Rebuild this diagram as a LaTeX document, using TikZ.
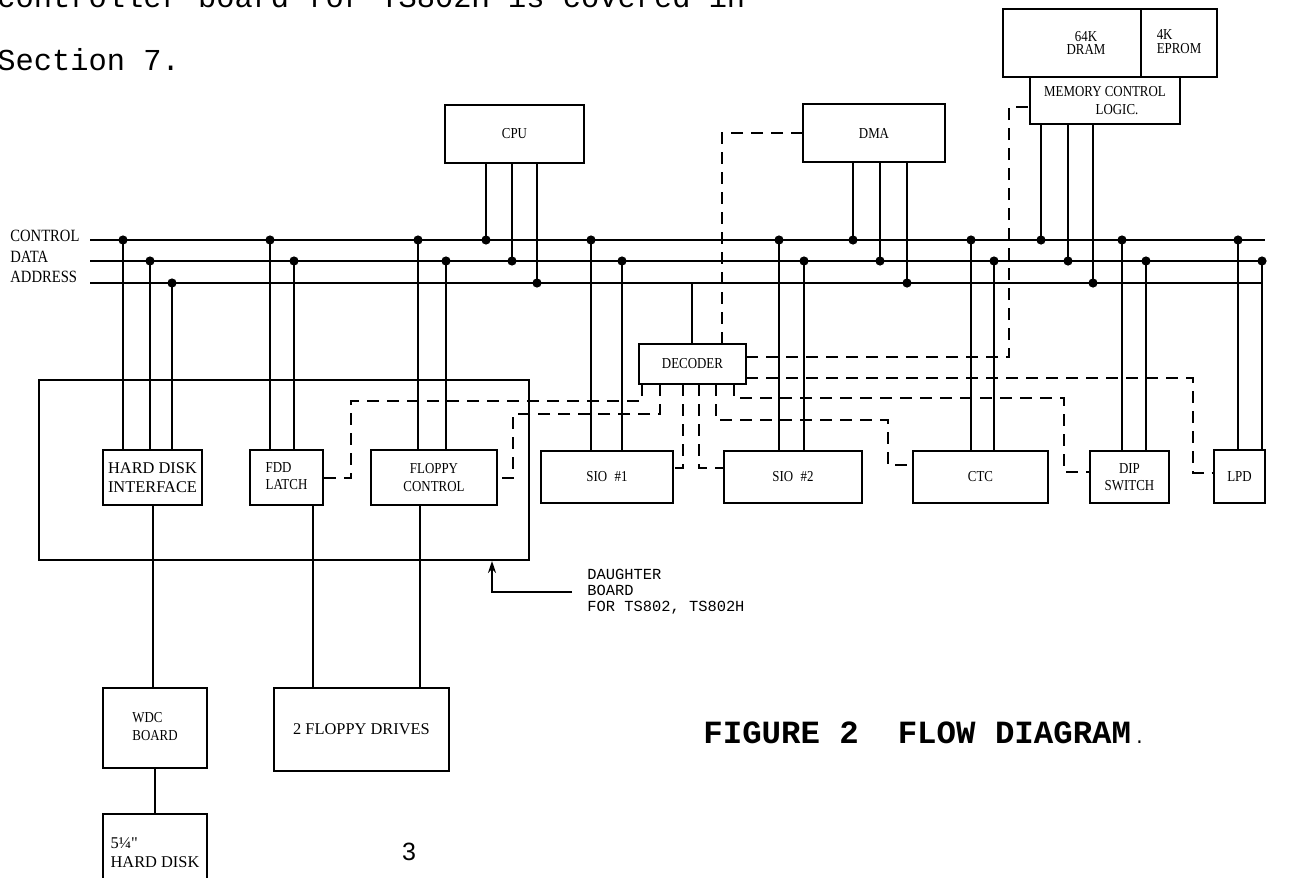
\documentclass[tikz,border=0pt]{standalone}
\usepackage{fontspec}
\setmainfont{Liberation Serif}
\newfontfamily\diafont[FakeStretch=0.85]{Liberation Serif}
\newfontfamily\widefont{Liberation Serif}
\newfontfamily\typefont{Liberation Mono}
\newfontfamily\pagefont{Liberation Sans}
\usetikzlibrary{positioning,calc,arrows.meta}

\begin{document}
\begin{tikzpicture}[x=0.5pt,y=-0.5pt]
    \tikzset{
        box/.style={draw, line width=1pt, inner sep=0pt, outer sep=0pt, align=center,
                    font=\diafont\fontsize{7.6}{8.8}\selectfont},
        widebox/.style={box, font=\widefont\fontsize{8.2}{9.2}\selectfont},
        wire/.style={line width=1pt},
        sel/.style={line width=1pt, dash pattern=on 6pt off 4pt},
        dot/.style={circle, fill, inner sep=0pt, minimum size=4.6pt},
        buslbl/.style={anchor=west, inner sep=0pt, font=\diafont\fontsize{8.6}{9}\selectfont},
    }

    \newcommand{\blk}[7][box]{
        \node[#1, minimum width={(#5-#3)*0.5pt}, minimum height={(#6-#4)*0.5pt}]
            (#2) at ({(#3+#5)/2},{(#4+#6)/2}) {#7};
    }

    \useasboundingbox (0,0) rectangle (1303,878);
    \clip (0,0) rectangle (1303,878);

    \node[anchor=base west, inner sep=0pt, font=\typefont\fontsize{15.2}{16}\selectfont] (txtA) at (-3,8) {controller board for TS802H is covered in};
    \node[anchor=base west, inner sep=0pt, font=\typefont\fontsize{15.2}{16}\selectfont] (txtB) at (-3,70) {Section 7.};

    \node[buslbl] (ctllbl) at (10,236) {CONTROL};
    \node[buslbl] (datlbl) at (10,257) {DATA};
    \node[buslbl] (adrlbl) at (10,277) {ADDRESS};

    \coordinate (ctl) at (90,240);   \coordinate (ctlend) at (1265,240);
    \coordinate (dat) at (90,261);   \coordinate (datend) at (1262,261);
    \coordinate (adr) at (90,283);   \coordinate (adrend) at (1262,283);
    \draw[wire] (ctl) -- (ctlend);
    \draw[wire] (dat) -- (datend);
    \draw[wire] (adr) -- (adrend);

    \blk{cpu}{445}{105}{584}{163}{CPU}
    \blk{dma}{803}{104}{945}{162}{DMA}
    \blk{dram}{1003}{9}{1141}{77}{\hspace*{14pt}64K\\[-2pt]\hspace*{14pt}DRAM}
    \blk{eprom}{1141}{9}{1217}{77}{\begin{tabular}{@{}l@{}}4K\\[-2pt]EPROM\end{tabular}}
    \blk{mcl}{1030}{77}{1180}{124}{MEMORY CONTROL\\\hspace*{12pt}LOGIC.}
    \blk{dec}{639}{344}{746}{384}{DECODER}

    \node[draw, line width=1pt, inner sep=0pt, minimum width=245pt, minimum height=90pt] (db) at (284,470) {};

    \blk[widebox]{hdi}{103}{450}{202}{505}{HARD DISK\\INTERFACE}
    \blk{fdl}{250}{450}{323}{505}{\begin{tabular}{@{}l@{}}FDD\\LATCH\end{tabular}}
    \blk{fdc}{371}{450}{497}{505}{FLOPPY\\CONTROL}
    \blk{sio1}{541}{451}{673}{503}{SIO\enspace\#1}
    \blk{sio2}{724}{451}{862}{503}{SIO\enspace\#2}
    \blk{ctc}{913}{451}{1048}{503}{CTC}
    \blk{dip}{1090}{451}{1169}{503}{DIP\\SWITCH}
    \blk{lpd}{1214}{450}{1265}{503}{LPD}

    \blk{wdc}{103}{688}{207}{768}{\begin{tabular}{@{}l@{}}WDC\\BOARD\end{tabular}}
    \blk[widebox]{fdd}{274}{688}{449}{771}{2 FLOPPY DRIVES}
    \blk[widebox]{hdd}{103}{814}{207}{895}{\begin{tabular}{@{}l@{}}5¼"\\HARD DISK\end{tabular}}

    \foreach \nd/\x/\bus/\side in {cpu/486/ctl/south, cpu/512/dat/south, cpu/537/adr/south,
        dma/853/ctl/south, dma/880/dat/south, dma/907/adr/south,
        mcl/1041/ctl/south, mcl/1068/dat/south, mcl/1093/adr/south,
        hdi/123/ctl/north, hdi/150/dat/north, hdi/172/adr/north,
        fdl/270/ctl/north, fdl/294/dat/north, fdc/418/ctl/north, fdc/446/dat/north,
        sio1/591/ctl/north, sio1/622/dat/north, sio2/779/ctl/north, sio2/804/dat/north,
        ctc/971/ctl/north, ctc/994/dat/north, dip/1122/ctl/north, dip/1146/dat/north,
        lpd/1238/ctl/north, lpd/1262/dat/north}
        {\coordinate (tx) at (\x,0); \draw[wire] (tx |- \nd.\side) -- (tx |- \bus) node[dot] {};}

    \coordinate (dx) at (692,0);
    \draw[wire] (dx |- adr) -- (dx |- dec.north);

    \draw[sel] (dma.west) -| ($(dec.north west)+(83,0)$);
    \draw[sel] ($(dec.north east)+(0,13)$) -| ($(mcl.south west)+(-21,-17)$) -- ($(mcl.south west)+(0,-17)$);
    \draw[sel] ($(dec.north east)+(0,34)$) -| ($(lpd.west)+(-21,-4)$) -- ($(lpd.west)+(0,-4)$);
    \draw[sel] ($(dec.south west)+(3,0)$) -- ++(0,17) -| ($(fdl.east)+(28,0)$) -- (fdl.east);
    \draw[sel] ($(dec.south west)+(21,0)$) -- ++(0,30) -| ($(fdc.east)+(16,0)$) -- (fdc.east);
    \draw[sel] ($(dec.south west)+(44,0)$) |- ($(sio1.east)+(0,-9)$);
    \draw[sel] ($(dec.south west)+(60,0)$) |- ($(sio2.west)+(0,-9)$);
    \draw[sel] ($(dec.south west)+(77,0)$) -- ++(0,36) -| ($(ctc.west)+(-25,-12)$) -- ($(ctc.west)+(0,-12)$);
    \draw[sel] ($(dec.south west)+(95,0)$) -- ++(0,14) -| ($(dip.west)+(-26,-5)$) -- ($(dip.west)+(0,-5)$);

    \draw[wire] (hdi.south) -- (hdi.south |- wdc.north);
    \draw[wire] (wdc.south) -- (wdc.south |- hdd.north);
    \coordinate (fx) at (313,0);
    \coordinate (gx) at (420,0);
    \draw[wire] (fx |- fdl.south) -- (fx |- fdd.north);
    \draw[wire] (gx |- fdc.south) -- (gx |- fdd.north);

    \node[anchor=west, align=left, inner sep=0pt, font=\typefont\fontsize{7.7}{8}\selectfont] (dblbl) at (587,592) {DAUGHTER\\BOARD\\FOR TS802, TS802H};
    \coordinate (dbtip) at (492,0);
    \draw[wire, -{Stealth[length=6pt, width=4pt]}] ($(dblbl.west)+(-15,0)$) -| (dbtip |- db.south);

    \node[anchor=base west, inner sep=0pt, font=\typefont\bfseries\fontsize{16.2}{18}\selectfont] (cap) at (703,743) {FIGURE 2~~FLOW DIAGRAM{\mdseries\fontsize{9}{9}\selectfont\,.}};
    \node[inner sep=0pt, font=\pagefont\fontsize{12.5}{14}\selectfont] (pgno) at (409,852) {3};
\end{tikzpicture}
\end{document}
